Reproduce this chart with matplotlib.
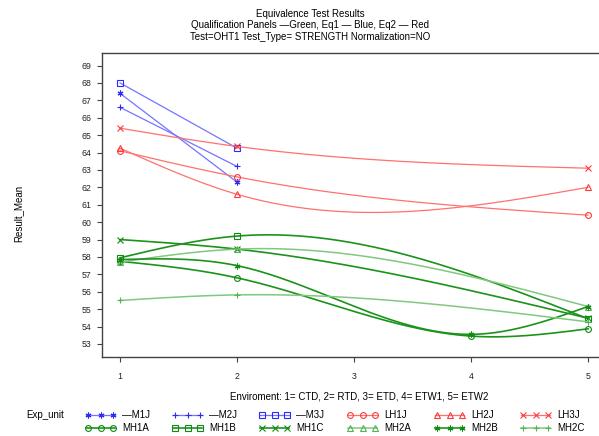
import numpy as np
import matplotlib
matplotlib.use("Agg")
from matplotlib import pyplot as plt
from matplotlib.lines import Line2D

plt.rcParams['font.family'] = ['Liberation Sans', 'DejaVu Sans']

#%% data
env = [1, 2, 3, 4, 5]
yticks = list(range(53, 70))

x_125 = [1, 2, 5]
x_1245 = [1, 2, 4, 5]

m1j = [67.4, 62.3]
m2j = [66.6, 63.2]
m3j = [68.0, 64.25]
lh1j = [64.1, 62.6, 60.4]
lh2j = [64.25, 61.6, 62.0]
lh3j = [65.4, 64.35, 63.1]
mh1a = [57.75, 56.8, 53.45, 53.87]
mh1b = [57.95, 59.2, 54.45]
mh1c = [59.0, 58.45, 54.48]
mh2a = [57.7, 58.45, 55.15]
mh2b = [57.85, 57.5, 53.55, 55.15]
mh2c = [55.5, 55.82, 54.27]

units = ["\u2014M1J", "\u2014M2J", "\u2014M3J", "LH1J", "LH2J", "LH3J",
         "MH1A", "MH1B", "MH1C", "MH2A", "MH2B", "MH2C"]

#%% natural cubic spline (like interpol=spline)
def spline(xs, ys, n=200):
    xs = np.asarray(xs, float)
    ys = np.asarray(ys, float)
    k = len(xs)
    if k < 3:
        xx = np.linspace(xs[0], xs[-1], n)
        return xx, np.interp(xx, xs, ys)
    h = np.diff(xs)
    A = np.zeros((k, k))
    r = np.zeros(k)
    A[0, 0] = 1
    A[-1, -1] = 1
    for i in range(1, k - 1):
        A[i, i - 1] = h[i - 1]
        A[i, i] = 2 * (h[i - 1] + h[i])
        A[i, i + 1] = h[i]
        r[i] = 6 * ((ys[i + 1] - ys[i]) / h[i] - (ys[i] - ys[i - 1]) / h[i - 1])
    M = np.linalg.solve(A, r)
    xx = np.linspace(xs[0], xs[-1], n)
    yy = np.zeros(n)
    for j, x in enumerate(xx):
        i = min(np.searchsorted(xs, x, side='right') - 1, k - 2)
        a = xs[i + 1] - x
        b = x - xs[i]
        yy[j] = (M[i] * a**3 + M[i + 1] * b**3) / (6 * h[i]) \
            + (ys[i] / h[i] - M[i] * h[i] / 6) * a \
            + (ys[i + 1] / h[i] - M[i + 1] * h[i] / 6) * b
    return xx, yy

#%%
blue_l, blue_m = '#7474ff', '#2a2aff'
red_l, red_m = '#ff7070', '#ff3a3a'
dg_l, dg_m = '#1b931b', '#108a10'
lg_l, lg_m = '#80c880', '#55b255'
star = (6, 2, 0)

series = [
    ([1, 2], m1j, blue_l, blue_m, star, 0.9),
    ([1, 2], m2j, blue_l, blue_m, '+', 0.9),
    ([1, 2], m3j, blue_l, blue_m, 's', 0.9),
    (x_125, lh1j, red_l, red_m, 'o', 0.9),
    (x_125, lh2j, red_l, red_m, '^', 0.9),
    (x_125, lh3j, red_l, red_m, 'x', 0.9),
    (x_1245, mh1a, dg_l, dg_m, 'o', 1.2),
    (x_125, mh1b, dg_l, dg_m, 's', 1.2),
    (x_125, mh1c, dg_l, dg_m, 'x', 1.2),
    (x_125, mh2a, lg_l, lg_m, '^', 1.1),
    (x_1245, mh2b, dg_l, dg_m, star, 1.2),
    (x_125, mh2c, lg_l, lg_m, '+', 1.1),
]

fig = plt.figure(figsize=(5.99, 4.36), dpi=100)
W, H = 599.0, 436.0
ax = fig.add_axes([102 / W, 1 - 357 / H, 514 / W, 304 / H])

for xs, ys, lc, mc, mk, lw in series:
    xx, yy = spline(xs, ys)
    ax.plot(xx, yy, color=lc, lw=lw)
    ax.plot(xs, ys, ls='none', marker=mk, ms=4.2, mec=mc, mfc='none', mew=0.8)

ax.set_xlim(0.846, 5.239)
ax.set_ylim(52.25, 69.72)
ax.set_xticks(env)
ax.set_yticks(yticks)
ax.tick_params(labelsize=6.3, length=3.5, width=0.8, color='#444444', labelcolor='#222222')
ax.tick_params(axis='x', pad=7)
ax.tick_params(axis='y', pad=4)
for s in ax.spines.values():
    s.set_color('#444444')
    s.set_linewidth(1.0)

fs = 7
fig.text(310 / W, 1 - 14 / H, "Equivalence Test Results", ha='center', va='center', fontsize=fs)
fig.text(310 / W, 1 - 25.5 / H, "Qualification Panels \u2014Green, Eq1 \u2014 Blue, Eq2 \u2014 Red",
         ha='center', va='center', fontsize=fs)
fig.text(310 / W, 1 - 37 / H, "Test=OHT1 Test_Type= STRENGTH Normalization=NO",
         ha='center', va='center', fontsize=fs)
fig.text(18 / W, 1 - 213 / H, "Result_Mean", rotation=90, ha='center', va='center', fontsize=fs)
fig.text(359 / W, 1 - 396 / H, "Enviroment: 1= CTD, 2= RTD, 3= ETD, 4= ETW1, 5= ETW2",
         ha='center', va='center', fontsize=fs)

# legend drawn in pixel coordinates
lax = fig.add_axes([0, 0, 1, 1], facecolor='none')
lax.set_xlim(0, W)
lax.set_ylim(H, 0)
lax.axis('off')
lax.text(26, 415, "Exp_unit", ha='left', va='center', fontsize=fs)
col_x = [86, 173, 260, 348, 435, 521]
row_y = [415, 428]
for k, (xs, ys, lc, mc, mk, lw) in enumerate(series):
    row = k // 6
    col = k % 6
    x0 = col_x[col]
    y0 = row_y[row]
    lax.add_line(Line2D([x0, x0 + 29], [y0, y0], color=lc, lw=lw))
    lax.add_line(Line2D([x0 + 2, x0 + 14.5, x0 + 27], [y0] * 3, ls='none', marker=mk,
                        ms=4.2, mec=mc, mfc='none', mew=0.8))
    lax.text(x0 + 36, y0, units[k], ha='left', va='center', fontsize=fs)

fig.savefig("out.png", dpi=100)
